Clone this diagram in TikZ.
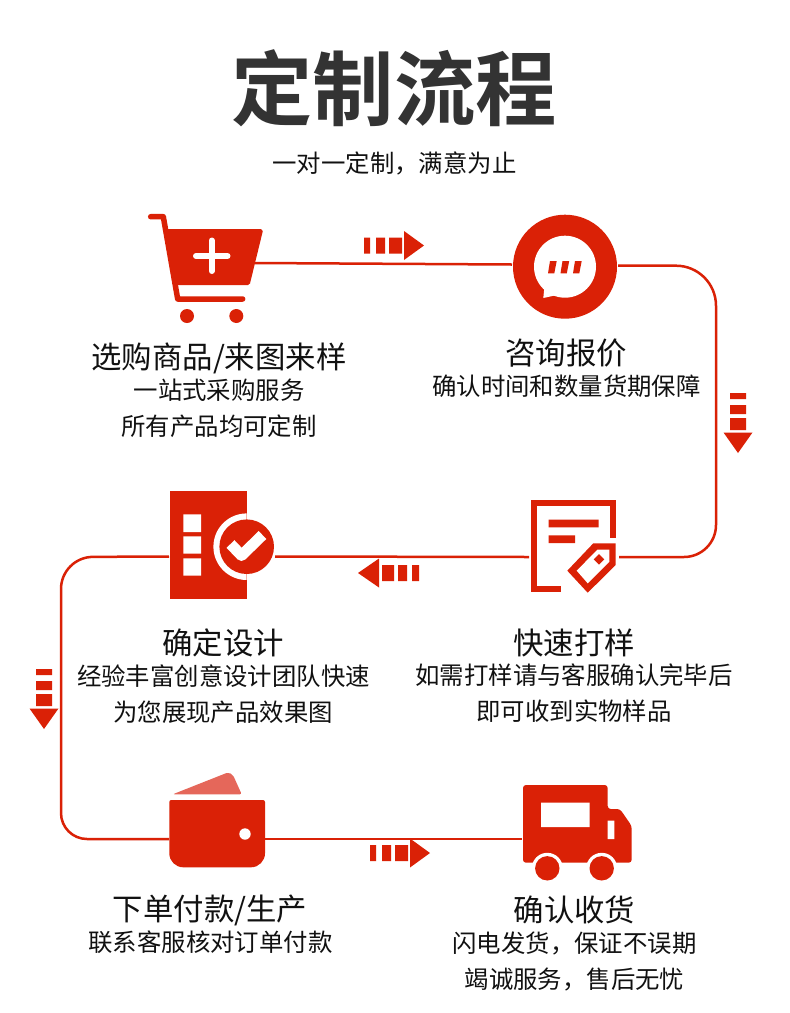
\documentclass[tikz,border=0pt]{standalone}
\usepackage{fontspec}
\setmainfont{Noto Sans CJK SC}
\newfontfamily\titlefont{Noto Sans CJK SC Bold}
\definecolor{brand}{HTML}{DA2106}
\definecolor{ink}{HTML}{333333}
\definecolor{labelink}{HTML}{111111}
\definecolor{flap}{HTML}{E5675A}
\tikzset{
  iconanchor/.style={inner sep=0pt,outer sep=0pt,minimum width=#1,minimum height=1pt},
  flow/.style={draw=brand,line width=2.5pt},
  headtext/.style={text=labelink,font=\fontsize{30.4}{30.4}\selectfont,inner sep=0pt,anchor=center},
  bodytext/.style={text=labelink,font=\fontsize{24.4}{24.4}\selectfont,inner sep=0pt,anchor=center},
}
\newcommand{\arrowright}[2]{\begin{scope}[shift={(#1,#2)}]
  \fill[brand] (0,-8)rectangle(6,8) (12,-8)rectangle(21,8) (25,-8)rectangle(38,8);
  \fill[brand] (40,-14.5)--(60,0)--(40,14.5)--cycle;\end{scope}}
\newcommand{\arrowleft}[2]{\begin{scope}[shift={(#1,#2)}]
  \fill[brand] (0,-8)rectangle(-7,8) (-12,-8)rectangle(-21,8) (-25,-8)rectangle(-37,8);
  \fill[brand] (-40,-14.5)--(-61,0)--(-40,14.5)--cycle;\end{scope}}
\newcommand{\arrowdown}[2]{\begin{scope}[shift={(#1,#2)}]
  \fill[brand] (-8,0)rectangle(8,6) (-8,12)rectangle(8,21) (-8,25)rectangle(8,37);
  \fill[brand] (-14.5,39.5)--(0,60)--(14.5,39.5)--cycle;\end{scope}}
\begin{document}
\begin{tikzpicture}[x=1pt,y=-1pt]
\useasboundingbox (0,0) rectangle (790,1013);
\fill[white] (0,0) rectangle (790,1013);
% anchors for connectors
\node[iconanchor=110pt] (cart) at (200,263) {};
\node[iconanchor=106pt] (chat) at (565,264.5) {};
\node[iconanchor=90pt] (tagdoc) at (574,557) {};
\node[iconanchor=106pt] (doc) at (222,556.5) {};
\node[iconanchor=96pt] (wallet) at (217,839) {};
\node[iconanchor=110pt] (truck) at (577,839) {};
% connectors
\draw[flow,rounded corners=40pt] (chat.east) ++(0,1.2) -- (716,265.7) [rounded corners=32pt] -- (716,557) -- (tagdoc.east);
\draw[flow] (cart.east) -- (chat.west);
\draw[flow] (tagdoc.west) -- (doc.east);
\draw[flow,rounded corners=32pt] (doc.west) -- (61,557) [rounded corners=26pt] -- (61,839) -- (wallet.west);
\draw[flow] (wallet.east) -- (truck.west);
% flow arrows
\arrowright{364}{245.5}
\arrowdown{738}{393}
\arrowleft{419}{573}
\arrowdown{44}{669}
\arrowright{370}{853}
% title
\node[text=ink,font=\fontsize{81.3}{81.3}\titlefont,inner sep=0pt] (title) at (394,88) {定制流程};
\node[text=labelink,font=\fontsize{24.4}{24.4}\selectfont,inner sep=0pt] (subtitle) at (394.5,163) {一对一定制，满意为止};
% cart icon
\draw[brand,line width=5.5pt,line cap=round,line join=round] (150.7,216.7)--(163.3,216.7)--(177.7,299)--(242.7,299);
\fill[brand] (166,229)--(261,229) to[out=0,in=-70] (262.7,231.5)--(250,283.5) to[out=110,in=0] (248,285)--(174,285)--cycle;
\draw[white,line width=6pt,line cap=round] (211.7,240.5)--(211.7,271) (196,256)--(227.5,256);
\fill[brand] (187,316) circle (7) (236.3,316) circle (7);
% chat icon
\fill[brand] (565,266.7) circle (52);
\fill[white] (565,266.7) circle (31);
\fill[white] (544.3,288)--(543.3,298)--(557,295)--cycle;
\fill[brand] (550,261)--(556.7,261)--(554.3,273.3)--(548,273.3)--cycle
 (562.5,261)--(569.2,261)--(566.8,273.3)--(560.5,273.3)--cycle
 (575,261)--(581.7,261)--(579.3,273.3)--(573,273.3)--cycle;
% tag doc icon
\draw[brand,line width=6pt] (560.5,589.3)--(534,589.3)--(534,503)--(612.7,503)--(612.7,537.7);
\fill[brand] (548.7,519.7) rectangle (598.7,527.3) (548.7,535.3) rectangle (575,543);
\fill[brand] (593.3,543.3)--(615.7,543.3)--(615.7,565)--(587.7,592.7)--(567.3,570.7)--cycle;
\fill[white] (597.3,549.7)--(609.3,549.7)--(609.3,561.7)--(587.7,583.3)--(576.7,570.7)--cycle;
\fill[brand] (599,554)--(604.3,559.3)--(599,564.7)--(593.7,559.3)--cycle;
% doc icon
\fill[brand] (170,491) rectangle (246.7,598.7);
\fill[white] (183.3,514.3) rectangle (201,532) (183.3,536.3) rectangle (201,553.7) (183.3,558.3) rectangle (201,575.7);
\begin{scope}
\clip (170,491) rectangle (246.7,598.7);
\fill[white] (246.7,546.7) circle (33.3);
\end{scope}
\fill[brand] (246.7,546.7) circle (27.3);
\draw[white,line width=11pt,line join=round] (230.5,544)--(241.5,555.5)--(262.5,535);
% wallet icon
\fill[flap,rounded corners=2pt] (172.7,794.3)--(228.3,772.3)--(233,775)--(241.7,794.3)--cycle;
\fill[brand] (171,800)--(263,800) arc[start angle=-90,end angle=0,radius=2] -- (265,853.3) arc[start angle=0,end angle=90,radius=14] -- (183.3,867.3) arc[start angle=90,end angle=180,radius=14] -- (169.3,802) arc[start angle=180,end angle=270,radius=2] --cycle;
\fill[white] (245,834) circle (5.7);
% truck icon
\fill[brand,rounded corners=3pt] (523,785)--(607.7,785)--(607.7,809)--(620,809)--(631.7,826)--(631.7,862.7)--(523,862.7)--cycle;
\fill[white] (541,802.7) rectangle (589.7,827) (607.7,820.7) rectangle (614.3,839);
\fill[white] (547.3,868.3) circle (15.5) (601.7,868.3) circle (15.5);
\fill[brand] (547.3,868.3) circle (12.2) (601.7,868.3) circle (12.2);
% labels
\node[headtext] (l1) at (219,358) {选购商品/来图来样};
\node[bodytext] (l1a) at (219,390.5) {一站式采购服务};
\node[bodytext] (l1b) at (219,426.5) {所有产品均可定制};
\node[headtext] (l2) at (566,353) {咨询报价};
\node[bodytext] (l2a) at (566.5,386.5) {确认时间和数量货期保障};
\node[headtext] (l3) at (574,643) {快速打样};
\node[bodytext] (l3a) at (574,675.5) {如需打样请与客服确认完毕后};
\node[bodytext] (l3b) at (574,711.5) {即可收到实物样品};
\node[headtext] (l4) at (223,643) {确定设计};
\node[bodytext] (l4a) at (223.5,676.5) {经验丰富创意设计团队快速};
\node[bodytext] (l4b) at (223,712.5) {为您展现产品效果图};
\node[headtext] (l5) at (210,910) {下单付款/生产};
\node[bodytext] (l5a) at (210.5,942.5) {联系客服核对订单付款};
\node[headtext] (l6) at (574.5,910) {确认收货};
\node[bodytext] (l6a) at (574.5,943.5) {闪电发货，保证不误期};
\node[bodytext] (l6b) at (574.5,979.5) {竭诚服务，售后无忧};
\end{tikzpicture}
\end{document}
